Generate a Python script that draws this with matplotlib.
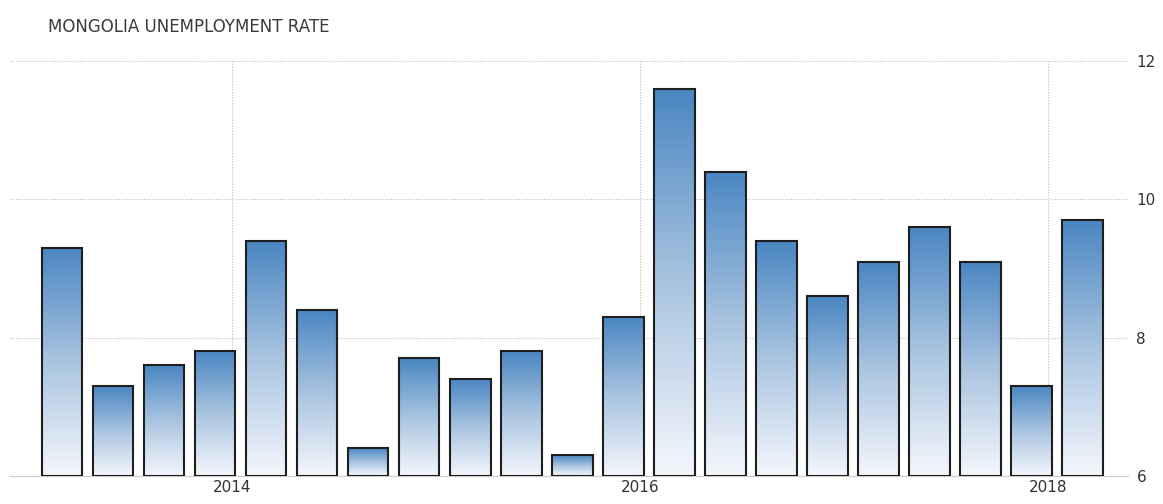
import numpy as np
import matplotlib
matplotlib.use("Agg")
import matplotlib.pyplot as plt
from matplotlib.colors import LinearSegmentedColormap
from matplotlib.patches import Rectangle

# Quarterly unemployment rate (%), 2013 Q2 .. 2018 Q2
values = [9.3, 7.3, 7.6, 7.8, 9.4, 8.4, 6.4, 7.7, 7.4, 7.8, 6.3,
          8.3, 11.6, 10.4, 9.4, 8.6, 9.1, 9.6, 9.1, 7.3, 9.7]
year_labels = ["2014", "2016", "2018"]
year_positions = [3.33, 11.33, 19.33]
y_ticks = [6, 8, 10, 12]
title = "MONGOLIA UNEMPLOYMENT RATE"

fig = plt.figure(figsize=(11.63, 5.04), dpi=100)
ax = fig.add_axes([0.0086, 0.0556, 0.9614, 0.8234])

base = 6
width = 0.8
cmap = LinearSegmentedColormap.from_list("bar", ["#f4f7fc", "#a9c4e0", "#4a86c2"])
grad = np.linspace(0, 1, 256).reshape(-1, 1)

x = np.arange(len(values))
for xi, v in zip(x, values):
    left = xi - width / 2
    im = ax.imshow(grad, cmap=cmap, origin="lower", aspect="auto",
                   extent=[left, left + width, base, v], zorder=2,
                   interpolation="bicubic")
    rect = Rectangle((left, base), width, v - base, facecolor="none",
                     edgecolor="#1e1e1e", linewidth=1.5, zorder=3)
    ax.add_patch(rect)
    im.set_clip_path(rect)

ax.set_xlim(-1.02, 20.9)
ax.set_ylim(6, 12)

ax.yaxis.tick_right()
ax.set_yticks(y_ticks)
ax.set_yticklabels([str(t) for t in y_ticks])
ax.set_xticks(year_positions)
ax.set_xticklabels(year_labels)
ax.tick_params(axis="both", length=0, labelsize=11, colors="#333333")
ax.tick_params(axis="y", pad=6)
ax.tick_params(axis="x", pad=3)

ax.grid(True, color="#bdbdbd", linestyle=(0, (1, 1.5)), linewidth=0.8, zorder=0)
ax.set_axisbelow(True)
for side in ["top", "right", "left"]:
    ax.spines[side].set_visible(False)
ax.spines["bottom"].set_color("#bdbdbd")
ax.spines["bottom"].set_linestyle((0, (1, 1.5)))
ax.spines["bottom"].set_linewidth(0.8)

fig.text(0.0413, 0.946, title, fontsize=12, color="#3a3a3a",
         ha="left", va="center")

fig.savefig("out.png", dpi=100, facecolor="white")
